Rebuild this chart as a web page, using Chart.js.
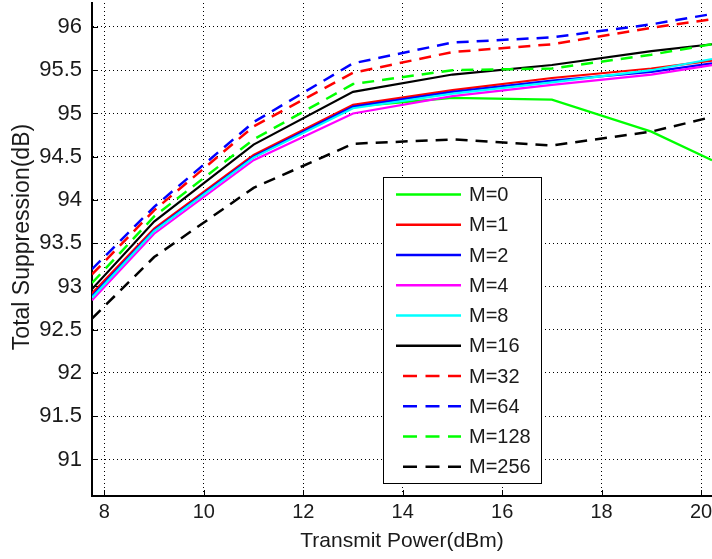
<!DOCTYPE html>
<html>
<head>
<meta charset="utf-8">
<script src="https://cdn.jsdelivr.net/npm/chart.js@4.4.1/dist/chart.umd.min.js"></script>
<style>
  html, body { margin: 0; padding: 0; background: #fff; }
  #wrap { width: 712px; height: 559px; position: relative; }
</style>
</head>
<body>
<div id="wrap"><canvas id="c" width="712" height="559"></canvas></div>
<script>
// ---- data ----
const xPower = [7.75, 9, 11, 13, 15, 17, 19, 20.22];
const seriesNames = ['M=0', 'M=1', 'M=2', 'M=4', 'M=8', 'M=16', 'M=32', 'M=64', 'M=128', 'M=256'];
const m0   = [92.90, 93.65, 94.50, 95.08, 95.18, 95.16, 94.79, 94.46];
const m1   = [92.92, 93.67, 94.52, 95.10, 95.27, 95.41, 95.52, 95.61];
const m2   = [92.89, 93.65, 94.50, 95.08, 95.25, 95.38, 95.48, 95.58];
const m4   = [92.84, 93.61, 94.46, 95.00, 95.20, 95.33, 95.45, 95.56];
const m8   = [92.87, 93.64, 94.49, 95.06, 95.23, 95.36, 95.50, 95.63];
const m16  = [92.97, 93.75, 94.64, 95.25, 95.45, 95.56, 95.72, 95.80];
const m32  = [93.14, 93.88, 94.85, 95.47, 95.71, 95.80, 95.99, 96.09];
const m64  = [93.20, 93.92, 94.90, 95.58, 95.82, 95.88, 96.03, 96.15];
const m128 = [93.04, 93.81, 94.70, 95.34, 95.50, 95.52, 95.68, 95.80];
const m256 = [92.63, 93.34, 94.14, 94.65, 94.70, 94.63, 94.79, 94.96];
const xTickValues = [8, 10, 12, 14, 16, 18, 20];
const yTickValues = [91, 91.5, 92, 92.5, 93, 93.5, 94, 94.5, 95, 95.5, 96];
const xTitle = 'Transmit Power(dBm)';
const yTitle = 'Total Suppression(dB)';

// ---- styles ----
const seriesValues = [m0, m1, m2, m4, m8, m16, m32, m64, m128, m256];
const colors = ['#00ff00', '#ff0000', '#0000ff', '#ff00ff', '#00ffff', '#000000',
                '#ff0000', '#0000ff', '#00ff00', '#000000'];
const dashed = [false, false, false, false, false, false, true, true, true, true];
const DASH = [12, 8];
const FONT = 'Liberation Sans, Arial, Helvetica, sans-serif';
const TEXT = '#1a1a1a';

const datasets = seriesValues.map((vals, i) => ({
  label: seriesNames[i],
  data: vals.map((v, k) => ({ x: xPower[k], y: v })),
  borderColor: colors[i],
  backgroundColor: colors[i],
  borderWidth: dashed[i] ? 2.5 : 2.2,
  borderDash: dashed[i] ? DASH : [],
  pointRadius: 0,
  tension: 0,
  fill: false,
  order: seriesValues.length - i
}));

const legendPlugin = {
  id: 'boxLegend',
  afterDraw(chart) {
    const ctx = chart.ctx;
    const box = { x: 383.5, y: 177.5, w: 158, h: 306 };
    ctx.save();
    ctx.fillStyle = '#fff';
    ctx.fillRect(box.x, box.y, box.w, box.h);
    ctx.strokeStyle = '#000';
    ctx.lineWidth = 1;
    ctx.strokeRect(box.x, box.y, box.w, box.h);
    ctx.font = '20px ' + FONT;
    ctx.textBaseline = 'middle';
    ctx.textAlign = 'left';
    const y0 = 194.5, step = 30.25;
    seriesNames.forEach((name, i) => {
      const y = y0 + i * step;
      ctx.strokeStyle = colors[i];
      ctx.lineWidth = 2.5;
      if (dashed[i]) {
        ctx.setLineDash([14, 8.5]);
        ctx.beginPath(); ctx.moveTo(403, y); ctx.lineTo(461, y); ctx.stroke();
      } else {
        ctx.setLineDash([]);
        ctx.beginPath(); ctx.moveTo(396, y); ctx.lineTo(461, y); ctx.stroke();
      }
      ctx.setLineDash([]);
      ctx.fillStyle = TEXT;
      ctx.fillText(name, 469, y + 1);
    });
    ctx.restore();
  }
};

const yTitlePlugin = {
  id: 'yTitle',
  afterDraw(chart) {
    const ctx = chart.ctx;
    ctx.save();
    ctx.translate(23, 237);
    ctx.rotate(-Math.PI / 2);
    ctx.font = '23px ' + FONT;
    ctx.fillStyle = TEXT;
    ctx.textAlign = 'center';
    ctx.textBaseline = 'middle';
    ctx.fillText(yTitle, 0, 0);
    ctx.restore();
  }
};

const innerTicksPlugin = {
  id: 'innerTicks',
  afterDatasetsDraw(chart) {
    const ctx = chart.ctx;
    const xs = chart.scales.x, ys = chart.scales.y;
    const a = chart.chartArea;
    ctx.save();
    ctx.strokeStyle = '#000';
    ctx.lineWidth = 1;
    xTickValues.forEach(v => {
      const px = Math.round(xs.getPixelForValue(v)) + 0.5;
      ctx.beginPath(); ctx.moveTo(px, a.bottom); ctx.lineTo(px, a.bottom - 6); ctx.stroke();
    });
    yTickValues.forEach(v => {
      const py = Math.round(ys.getPixelForValue(v)) + 0.5;
      ctx.beginPath(); ctx.moveTo(a.left, py); ctx.lineTo(a.left + 6, py); ctx.stroke();
    });
    ctx.restore();
  }
};

new Chart(document.getElementById('c'), {
  type: 'line',
  data: { datasets },
  options: {
    responsive: false,
    animation: false,
    layout: { padding: { top: 3, right: 0, left: 0, bottom: 0 }, autoPadding: false },
    plugins: { legend: { display: false }, tooltip: { enabled: false } },
    scales: {
      x: {
        type: 'linear',
        min: 7.75,
        max: 20.22,
        afterBuildTicks: s => { s.ticks = xTickValues.map(v => ({ value: v })); },
        afterFit: s => { s.height = 63; s.paddingLeft = 0; s.paddingRight = 0; },
        ticks: { color: TEXT, font: { family: FONT, size: 20 }, padding: 4, maxRotation: 0,
                 callback: v => String(v) },
        grid: { color: '#000', lineWidth: 1, drawTicks: false },
        border: { display: true, color: '#000', width: 2, dash: [1, 3] },
        title: { display: true, text: xTitle, color: TEXT,
                 font: { family: FONT, size: 21 }, padding: { top: 0, bottom: 5 } }
      },
      y: {
        type: 'linear',
        min: 90.578,
        max: 96.277,
        afterBuildTicks: s => { s.ticks = yTickValues.map(v => ({ value: v })); },
        afterFit: s => { s.width = 92; s.paddingTop = 0; s.paddingBottom = 0; },
        ticks: { color: TEXT, font: { family: FONT, size: 22 }, padding: 10,
                 callback: v => String(v) },
        grid: { color: '#000', lineWidth: 1, drawTicks: false },
        border: { display: true, color: '#000', width: 2, dash: [1, 3] },
        title: { display: false }
      }
    }
  },
  plugins: [innerTicksPlugin, legendPlugin, yTitlePlugin]
});
</script>
</body>
</html>
